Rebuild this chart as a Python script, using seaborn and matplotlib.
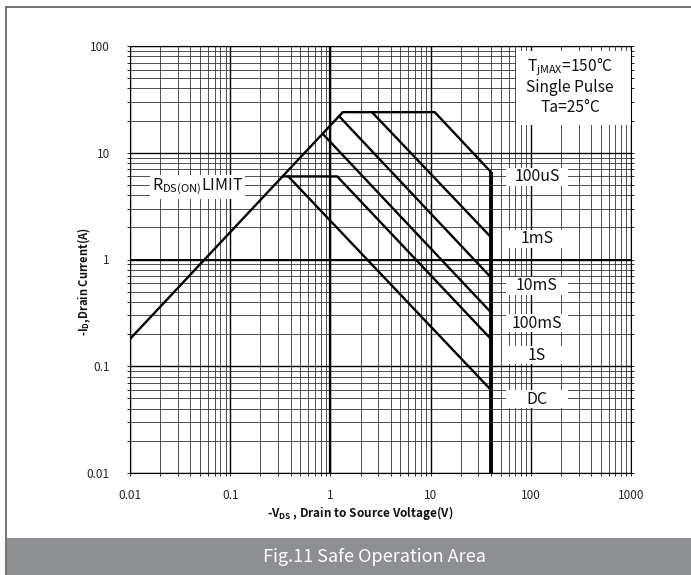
import numpy as np
import pandas as pd
import matplotlib
matplotlib.use("Agg")
import matplotlib.pyplot as plt
from matplotlib.patches import Rectangle
from matplotlib.lines import Line2D
from matplotlib.ticker import LogLocator, FixedLocator, NullFormatter
import seaborn as sns

# ---------------- data ----------------
rds_v = [0.01, 1.33]
rds_i = [0.18, 24.0]
us100_v = [1.33, 11.0, 40.0]
us100_i = [24.0, 24.0, 6.6]
ms1_v = [2.6, 40.0]
ms1_i = [24.0, 1.62]
ms10_v = [1.22, 40.0]
ms10_i = [22.0, 0.68]
ms100_v = [0.84, 40.0]
ms100_i = [15.0, 0.32]
s1_v = [0.333, 1.17, 40.0]
s1_i = [6.0, 6.0, 0.18]
dc_v = [0.38, 40.0]
dc_i = [6.0, 0.06]
vdss_v = [40.0, 40.0]
vdss_i = [6.6, 0.01]

curve_names = ["RDS", "100uS", "1mS", "10mS", "100mS", "1S", "DC", "VDSS"]
curve_v = [rds_v, us100_v, ms1_v, ms10_v, ms100_v, s1_v, dc_v, vdss_v]
curve_i = [rds_i, us100_i, ms1_i, ms10_i, ms100_i, s1_i, dc_i, vdss_i]

label_texts = ["100uS", "1mS", "10mS", "100mS", "1S", "DC"]
label_y = [5.93, 1.56, 0.565, 0.254, 0.127, 0.0493]

x_ticks = [0.01, 0.1, 1, 10, 100, 1000]
x_ticklabels = ["0.01", "0.1", "1", "10", "100", "1000"]
y_ticks = [0.01, 0.1, 1, 10, 100]
y_ticklabels = ["0.01", "0.1", "1", "10", "100"]

rows = []
for name, vs, cs in zip(curve_names, curve_v, curve_i):
    for k, (v, c) in enumerate(zip(vs, cs)):
        rows.append({"series": name, "V": v, "I": c, "order": k})
df = pd.DataFrame(rows)

# ---------------- style ----------------
sns.set_theme(style="white")
FONT = ["Noto Sans CJK SC", "DejaVu Sans"]
plt.rcParams["font.family"] = FONT
plt.rcParams["mathtext.fontset"] = "custom"
plt.rcParams["mathtext.rm"] = "Noto Sans CJK SC"
plt.rcParams["mathtext.it"] = "Noto Sans CJK SC"
plt.rcParams["mathtext.bf"] = "Noto Sans CJK SC:bold"

W, H = 691, 575
fig = plt.figure(figsize=(W / 100, H / 100), dpi=100)
L, R, T, B = 130, 631, 46, 473
ax = fig.add_axes([L / W, 1 - B / H, (R - L) / W, (B - T) / H])
ax.set_xscale("log")
ax.set_yscale("log")
ax.set_xlim(0.01, 1000)
ax.set_ylim(0.01, 100)

# grid
ax.set_axisbelow(True)
ax.xaxis.set_minor_locator(LogLocator(base=10, subs=np.arange(2, 10)))
ax.yaxis.set_minor_locator(LogLocator(base=10, subs=np.arange(2, 10)))
ax.xaxis.set_minor_formatter(NullFormatter())
ax.yaxis.set_minor_formatter(NullFormatter())
ax.grid(which="major", color="black", lw=1.0)
ax.grid(which="minor", color="#333333", lw=0.6)
ax.axvline(1, color="black", lw=1.6, zorder=0.8)
ax.axhline(1, color="black", lw=1.4, zorder=0.8)

ax.xaxis.set_major_locator(FixedLocator(x_ticks))
ax.yaxis.set_major_locator(FixedLocator(y_ticks))
ax.set_xticklabels(x_ticklabels)
ax.set_yticklabels(y_ticklabels)
ax.tick_params(which="both", direction="out", length=2.5, width=0.6, color="black",
               left=True, bottom=True, right=True, top=False)
ax.tick_params(axis="x", labelsize=8.5, pad=9)
ax.tick_params(axis="y", labelsize=8.5, pad=12)
for s in ax.spines.values():
    s.set_color("black")
    s.set_linewidth(0.8)

# curves
for name in curve_names:
    sub = df[df["series"] == name].sort_values("order")
    lw = 2.8 if name == "VDSS" else 1.7
    sns.lineplot(data=sub, x="V", y="I", sort=False, estimator=None, color="black",
                 lw=lw, ax=ax, legend=False, zorder=3,
                 solid_capstyle="butt" if name == "VDSS" else "round")
ax.set_xlabel("")
ax.set_ylabel("")

# white label boxes on the right
bx0 = (506 - L) / (R - L)
bw = 62 / (R - L)
bh = 18 / (B - T)
for txt, yv in zip(label_texts, label_y):
    yfrac = (np.log10(yv) + 2) / 4
    ax.add_patch(Rectangle((bx0, yfrac - bh / 2), bw, bh, transform=ax.transAxes,
                           facecolor="white", edgecolor="none", zorder=1.5))
    ax.text(bx0 + bw / 2, yfrac, txt, transform=ax.transAxes, ha="center", va="center",
            fontsize=11.5, color="#111111", zorder=4)

# RDS(ON) limit label
ax.text(0.0472, 4.78, r"R$_{\mathrm{DS(ON)}}$LIMIT", ha="center", va="center",
        fontsize=11.5, color="#111111", zorder=4,
        bbox=dict(boxstyle="square,pad=0.12", facecolor="white", edgecolor="none"))

# top-right condition box
ax.add_patch(Rectangle(((516 - L) / (R - L), (B - 125) / (B - T)),
                       (R - 516) / (R - L), (125 - 51) / (B - T),
                       transform=ax.transAxes, facecolor="white", edgecolor="none", zorder=1.5))
cx = (570 - L) / (R - L)
ax.text(cx, (B - 66) / (B - T), r"T$_{\mathrm{jMAX}}$=150°C", transform=ax.transAxes,
        ha="center", va="center", fontsize=11.2, color="#111111", zorder=4)
ax.text(cx, (B - 87) / (B - T), "Single Pulse", transform=ax.transAxes,
        ha="center", va="center", fontsize=11.2, color="#111111", zorder=4)
ax.text(cx, (B - 108) / (B - T), "Ta=25°C", transform=ax.transAxes,
        ha="center", va="center", fontsize=11.2, color="#111111", zorder=4)

# axis labels
fig.text(360 / W, 1 - 513 / H, r"-V$_{\mathbf{DS}}$ , Drain to Source Voltage(V)",
         ha="center", va="center", fontsize=8.5, fontweight="bold", color="#111111")
fig.text(84 / W, 1 - 282 / H, r"-I$_{\mathbf{D}}$,Drain Current(A)", rotation=90,
         ha="center", va="center", fontsize=8.0, fontweight="bold", color="#111111")

# outer border (top and left)
fig.add_artist(Line2D([6 / W, 6 / W], [0, 1 - 7 / H], transform=fig.transFigure,
                      color="#5a5a5a", lw=1.2))
fig.add_artist(Line2D([6 / W, 1], [1 - 7 / H, 1 - 7 / H], transform=fig.transFigure,
                      color="#5a5a5a", lw=1.2))

# caption bar
fig.add_artist(Rectangle((7 / W, 0), 1 - 7 / W, 37 / H, transform=fig.transFigure,
                         facecolor="#8e8f93", edgecolor="none"))
fig.text(374 / W, 18.5 / H, "Fig.11 Safe Operation Area", ha="center", va="center",
         fontsize=13, color="white", fontweight="light")

fig.savefig("out.png", dpi=100)
